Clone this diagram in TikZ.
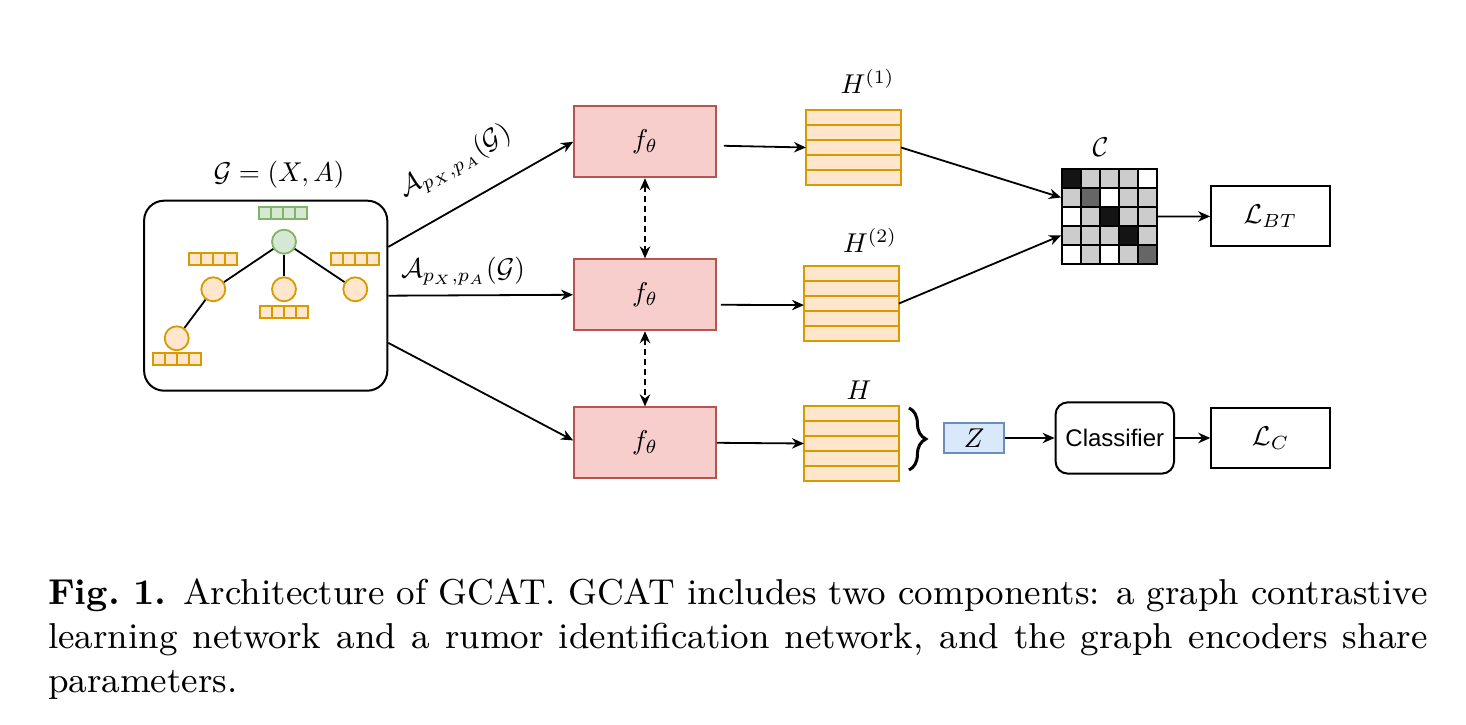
\documentclass[tikz,border=0pt]{standalone}
\usepackage{graphicx}
\usepackage{fontspec}
\newfontfamily\helvfont{Liberation Sans}
\usetikzlibrary{arrows.meta,decorations.pathreplacing}
\definecolor{encfill}{HTML}{F8CECC}
\definecolor{encline}{HTML}{B85450}
\definecolor{orfill}{HTML}{FFE6CC}
\definecolor{orline}{HTML}{D79B00}
\definecolor{grfill}{HTML}{D5E8D4}
\definecolor{grline}{HTML}{82B366}
\definecolor{blfill}{HTML}{DAE8FC}
\definecolor{blline}{HTML}{6C8EBF}
\definecolor{mk}{HTML}{141414}
\definecolor{md}{HTML}{666666}
\definecolor{ml}{HTML}{CCCCCC}
\definecolor{mw}{HTML}{FFFFFF}
\newcommand{\mlab}[1]{\scalebox{0.68}{$#1$}}
\begin{document}
\begin{tikzpicture}[x=0.25pt, y=-0.25pt,
  arr/.style={-{Stealth[length=3pt,width=2.6pt]}, line width=0.45pt},
  darr/.style={{Stealth[length=3pt,width=2.6pt]}-{Stealth[length=3pt,width=2.6pt]}, line width=0.45pt, dash pattern=on 1.5pt off 1pt},
  enc/.style={draw=encline, fill=encfill, line width=0.45pt, minimum width=35.5pt, minimum height=17.75pt, inner sep=0},
  hrow/.style={draw=orline, fill=orfill, line width=0.5pt, minimum width=23.75pt, minimum height=3.75pt, inner sep=0, outer sep=0},
  gnode/.style={circle, draw=#1line, fill=#1fill, line width=0.45pt, minimum size=6pt, inner sep=0},
  fcell/.style={draw=#1line, fill=#1fill, line width=0.5pt, minimum size=3pt, inner sep=0},
  mcell/.style={draw, line width=0.4pt, minimum size=4.75pt, inner sep=0},
  lossbox/.style={draw, line width=0.5pt, minimum width=29.6pt, minimum height=15pt, inner sep=0}]
\useasboundingbox (0,0) rectangle (1466,725);

% input graph
\node[draw, rounded corners=5pt, line width=0.5pt, minimum width=60.8pt, minimum height=47.5pt, inner sep=0] (gbox) at (265.7,295.7){};
\node (glabel) at (279,175){\mlab{\mathcal{G}=(X,A)}};
\node[gnode=gr] (v0) at (284,241.7){};
\node[gnode=or] (v1) at (213.3,289.3){};
\node[gnode=or] (v2) at (284,289.3){};
\node[gnode=or] (v3) at (355.3,289.3){};
\node[gnode=or] (v4) at (176.7,338.3){};
\draw[line width=0.45pt](v0) -- (v1);
\draw[line width=0.45pt](v0) -- (v2);
\draw[line width=0.45pt](v0) -- (v3);
\draw[line width=0.45pt](v1) -- (v4);
\foreach \i in {0,...,3}
  \node[fcell=gr] (x0\i) at (259.3+6+12*\i,213){};
\foreach \bx/\by [count=\j] in {189.3/259.5, 331.3/259.5, 260/311.8, 152.7/359.5}
  \foreach \i in {0,...,3}
    \node[fcell=or] (x\j\i) at (\bx+6+12*\i,\by){};

% encoders
\node[enc] (enc1) at (645,141.8){\mlab{f_\theta}};
\node[enc] (enc2) at (645,294.8){\mlab{f_\theta}};
\node[enc] (enc3) at (645,442.8){\mlab{f_\theta}};
\draw[arr]([yshift=12.2pt]gbox.east) -- (enc1.west);
\draw[arr](gbox.east) -- (enc2.west);
\draw[arr]([yshift=-11.8pt]gbox.east) -- ([yshift=0.6pt]enc3.west);
\node[rotate=29.3] (aug1) at (455.5,162){\mlab{\mathcal{A}_{p_X,p_A}(\mathcal{G})}};
\node (aug2) at (463,271){\mlab{\mathcal{A}_{p_X,p_A}(\mathcal{G})}};
\draw[darr](enc1) -- (enc2);
\draw[darr](enc2) -- (enc3);

% representations, five rows each
\foreach \h/\hx/\hy in {h1/853.5/110, h2/851.5/266, h3/851.5/406}
  \foreach \k in {1,...,5}
    \node[hrow] (\h r\k) at (\hx,\hy-7.5+15*\k){};
\node (h1label) at (867.5,81.5){\mlab{H^{(1)}}};
\node (h2label) at (870,240.5){\mlab{H^{(2)}}};
\node (h3label) at (859,390){\mlab{H}};
\draw[arr]([xshift=1.75pt,yshift=-1pt]enc1.east) -- (h1r3.west);
\draw[arr]([xshift=1pt,yshift=-2.5pt]enc2.east) -- ([yshift=-0.4pt]h2r3.west);
\draw[arr](enc3.east) -- (h3r3.west);

% cross-correlation matrix
\foreach \row [count=\j from 0] in {{mk,ml,ml,ml,mw},{ml,md,mw,ml,ml},{mw,ml,mk,ml,ml},{ml,ml,ml,mk,ml},{mw,ml,mw,ml,md}}
  \foreach \c [count=\i from 0] in \row
    \node[mcell, fill=\c] (c\j\i) at (1062+9.5+19*\i,169+9.5+19*\j){};
\node[draw, line width=0.5pt, minimum size=23.75pt, inner sep=0] (cmat) at (1109.5,216.5){};
\node (clabel) at (1100.5,147.5){\mlab{\mathcal{C}}};
\draw[arr](h1r3.east) -- ([yshift=4.75pt]cmat.west);
\draw[arr](h2r3.east) -- ([yshift=-4.75pt]cmat.west);
\node[lossbox] (lbt) at (1270.3,216.4){\mlab{\mathcal{L}_{BT}}};
\draw[arr](cmat.east) -- (lbt.west);

% classification branch
\draw[decorate, decoration={brace, amplitude=4.2pt}, line width=0.75pt](909,408) -- (909,470);
\node[draw=blline, fill=blfill, line width=0.45pt, minimum width=15pt, minimum height=7.5pt, inner sep=0] (zbox) at (974,438){\mlab{Z}};
\node[draw, rounded corners=3pt, line width=0.5pt, minimum width=29.6pt, minimum height=17.8pt, inner sep=0, font=\helvfont\fontsize{6}{7}\selectfont] (clf) at (1114.8,438){Classifier};
\node[lossbox] (lc) at (1270.5,438){\mlab{\mathcal{L}_{C}}};
\draw[arr](zbox) -- (clf);
\draw[arr](clf) -- (lc);

% caption
\node[anchor=north west, inner sep=0, text width=344.85pt, align=justify, font=\fontsize{9}{11}\selectfont] (caption) at (47.3,577.5){\textbf{Fig.~1.} Architecture of GCAT. GCAT includes two components: a graph contrastive learning network and a rumor identification network, and the graph encoders share parameters.};

\end{tikzpicture}
\end{document}
